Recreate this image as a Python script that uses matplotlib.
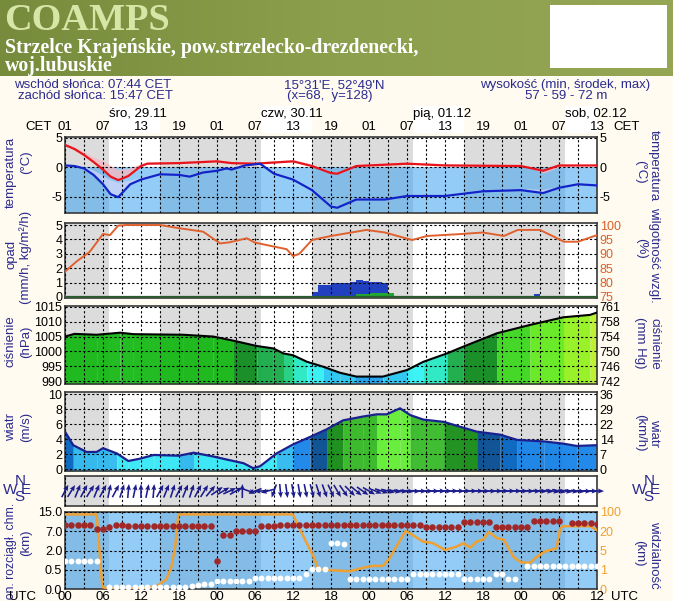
import numpy as np
import matplotlib.pyplot as plt
from matplotlib.colors import ListedColormap, BoundaryNorm, LinearSegmentedColormap
from matplotlib.patches import Rectangle

plt.rcParams['font.family'] = ['Liberation Sans', 'DejaVu Sans']
plt.rcParams['axes.unicode_minus'] = False

# hours from 29.11 00 UTC (= 01 CET)
day_start = [7, 31, 55, 79]
day_end = [15, 39, 63, 87]
day_labels = ['śro, 29.11', 'czw, 30.11', 'pią, 01.12', 'sob, 02.12']
cet_labels = ['01', '07', '13', '19', '01', '07', '13', '19', '01', '07', '13', '19', '01', '07', '13']
utc_labels = ['00', '06', '12', '18', '00', '06', '12', '18', '00', '06', '12', '18', '00', '06', '12']

# temperature (red) and the lower line (blue), with their light bands
red_h = [0, 1.5, 3, 4.5, 6, 7.2, 8.4, 10, 12, 13, 18, 24, 26.3, 30, 36, 39, 42, 43, 46, 54, 60, 72, 75.5, 78, 84]
red_t = [3.8, 3.1, 2.1, 0.9, -0.4, -1.6, -2.2, -1.5, 0.2, 0.6, 0.7, 1.0, 0.7, 0.6, 1.0, 0.2, -1.0, -1.1, 0.2, 0.6, 0.3, 0.2, -0.6, 0.3, 0.3]
red_band = [4.1, 3.5, 2.6, 1.7, 1.1, 0.3, -0.4, -0.2, 0.6, 0.9, 1.0, 1.3, 1.0, 0.9, 1.3, 0.5, -0.7, -0.8, 0.5, 0.9, 0.6, 0.5, -1.0, 0.0, 0.6]
blue_h = [0, 1.5, 3, 4.5, 6, 7.2, 8.4, 10.3, 12, 15, 18, 19.7, 21.8, 24, 25.5, 26.3, 28.4, 30.8, 33, 36, 39, 42, 43,
          46, 50.5, 54, 60, 66, 72, 75.5, 78, 81, 84]
blue_t = [0.3, 0.2, -0.2, -1.3, -2.9, -4.6, -5.1, -2.9, -2.1, -1.2, -1.3, -1.6, -0.9, -0.6, -0.2, -0.4, 0.3, 0.6, -1.1,
          -2.1, -3.9, -6.7, -6.9, -5.5, -5.5, -4.9, -4.9, -4.1, -3.9, -4.4, -3.5, -2.9, -3.1]
blue_band = [0.5, 0.4, 0.1, -0.5, -1.4, -2.2, -2.6, -2.2, -1.7, -0.9, -1.0, -1.3, -0.6, -0.3, 0.1, -0.1, 0.6, 0.8, -0.8,
             -1.8, -3.6, -6.4, -6.6, -5.2, -5.2, -4.6, -4.6, -3.8, -3.6, -3.8, -3.2, -2.6, -2.8]

# relative humidity (%)
rh_h = [0, 1.8, 3.9, 5.2, 6, 7.1, 8.4, 9.7, 15, 18, 21.8, 24.5, 26, 28.7, 30, 33, 35, 36, 37, 39, 42, 46, 47.6, 50.5,
        54.8, 57.2, 62, 66, 69.3, 71.5, 75, 78.8, 81, 84]
rh = [83.8, 87.3, 90.7, 94.5, 96.9, 96.5, 99.8, 100, 100, 98.9, 97.7, 93.6, 94.0, 95.4, 93.9, 92.5, 91.6, 89.2, 90.0,
      94.8, 96.2, 97.7, 98.3, 97.4, 94.8, 96.2, 96.8, 97.4, 96.2, 98.3, 98.3, 94.2, 94.2, 96.5]

# precipitation (mm/h), total and the green part
pr_h = [39, 40, 41, 42, 43, 44, 45, 46, 47, 48, 49, 50, 51, 52, 57, 58, 59, 63, 72, 73, 74, 75]
pr_total = [0.37, 0.83, 0.83, 1.0, 1.0, 1.0, 1.06, 1.18, 1.13, 1.06, 1.06, 1.0, 0.25, 0.07, 0.05, 0.1, 0.05, 0.05,
            0.07, 0.07, 0.2, 0.05]
pr_green = [0, 0, 0, 0, 0, 0, 0, 0.19, 0.19, 0.25, 0.25, 0.25, 0.25, 0.07, 0, 0, 0, 0, 0, 0, 0, 0]

# pressure (hPa)
p_h = [0, 1.5, 5, 8.7, 10.8, 18.7, 23.4, 26.6, 30.3, 32.9, 34.5, 36, 38.2, 40.8, 43.4, 46, 50.2, 54, 56.6, 60.3, 62.9,
       68.2, 73.4, 78.7, 82.9, 84]
p_hpa = [1005.0, 1005.9, 1005.6, 1006.3, 1005.8, 1005.6, 1005.0, 1003.6, 1001.8, 1001.0, 999.3, 998.7, 996.5, 994.8,
         992.8, 991.5, 991.5, 993.7, 996.5, 999.3, 1001.6, 1006.1, 1008.9, 1011.5, 1012.3, 1013.1]
mmhg_labels = ['742', '746', '750', '754', '758', '761']

# wind speed (m/s)
w_h = [0, 1.3, 3.4, 5, 6, 8.2, 10, 11.8, 14, 18, 20.3, 23.4, 25.5, 28.2, 29.7, 30.8, 33.4, 36, 38.7, 41.3, 43.9, 47,
       49.2, 50.8, 52.9, 54.5, 56.6, 59.8, 65, 68.7, 71.4, 75.6, 78.7, 80.8, 84]
w_ms = [5.0, 3.2, 2.3, 2.3, 2.8, 2.1, 1.1, 1.4, 1.9, 1.8, 2.2, 1.7, 1.3, 0.8, 0.15, 0.4, 2.1, 3.3, 4.3, 5.3, 6.5, 7.0,
        7.3, 7.3, 8.1, 7.2, 6.6, 6.3, 5.0, 4.6, 3.9, 3.7, 3.4, 3.1, 3.2]
kmh_labels = ['0', '7', '14', '22', '29', '36']

# wind direction, hourly (degrees the arrow points to, clockwise from up)
wd = [28, 32, 22, 28, 32, 22, 28, 12, 28, 18,
      5, 12, 0, 12, 5, 28, 22, 18, 28, 22,
      18, 28, 32, 40, 55, 60, 65, 60, 0, 110,
      250, 265, 255, 200, 175, 172, 170, 170, 168, 165,
      162, 160, 155, 150, 145, 135, 130, 125, 120, 112,
      108, 104, 100, 98, 96, 94, 93, 92, 92, 91,
      91, 90, 90, 90, 90, 91, 92, 92, 91, 90,
      90, 90, 91, 92, 93, 95, 97, 100, 102, 100,
      98, 96, 94, 92, 91]

# cloud levels (km), hourly
nan = np.nan
cloud_top = [9.8, 9.8, 9.8, 9.8, 9.8, 8.0, 8.0, 8.8, 9.8, 9.8,
             9.1, 9.1, 9.1, 9.1, 9.1, 9.1, 9.1, 9.1, 9.1, 9.1,
             9.1, 9.1, 9.1, 9.1, 1.2, 5.9, 5.9, 7.0, 7.0, 7.0,
             7.0, 9.1, 9.1, 9.1, 9.8, 9.8, 9.8, 9.8, 9.8, 9.8,
             9.8, 9.8, 9.8, 9.8, 9.8, 9.8, 9.8, 9.8, 9.8, 9.8,
             9.8, 9.8, 9.8, 9.8, 9.8, 9.8, 9.8, 8.8, 8.8, 8.8,
             8.8, 8.8, 8.8, 10.8, 10.8, 10.8, 10.8, 10.8, 8.8, 8.8,
             8.8, 8.8, 8.8, 8.8, 11.2, 11.2, 11.2, 11.2, 11.2, nan,
             10.6, 10.6, 10.6, 10.6, 10.0]
cloud_base = [1.2, 1.2, 1.2, 1.2, 1.2, 1.2, nan, 0.045, 0.045, 0.045,
              0.045, 0.045, 0.045, 0.045, 0.045, 0.045, 0.045, 0.045, 0.05, 0.06,
              0.08, 0.1, 0.12, 0.14, 0.22, 0.22, 0.22, 0.22, 0.22, 0.22,
              0.29, 0.29, 0.29, 0.29, 0.29, 0.29, 0.29, 0.29, 0.4, 0.53,
              0.53, 0.53, 3.9, 3.9, 3.6, 0.26, 0.26, 0.26, 0.26, 0.26,
              0.26, 0.26, 0.26, 0.26, 0.26, 0.38, 0.38, 0.38, 0.38, 0.38,
              0.38, 0.38, 0.38, 0.26, 0.26, 0.26, 0.26, 0.26, 0.38, 0.38,
              0.26, 0.26, nan, 0.77, 0.77, 0.77, 0.77, 0.77, 0.77, 0.77,
              0.77, 0.77, 0.77, 0.77, 0.77]

# visibility (km)
vis_h = [0, 5.0, 5.9, 7, 12, 14.5, 16, 16.8, 17.4, 17.9, 36, 37, 39.2, 40, 40.8, 45, 47, 48.6, 50.2, 51.2, 52.3, 53.8,
         54.9, 56.5, 58.1, 60, 61.8, 62.9, 64, 65, 66, 66.9, 68.2, 69.3, 70.8, 71.9, 73.4, 74.5, 75.8, 77.6, 78.2,
         78.7, 82.9, 84]
vis_km = [90, 90, 0.09, 0.03, 0.03, 0.15, 0.5, 1.6, 8, 90, 90, 33, 3.8, 1.2, 1.0, 0.92, 1.4, 1.8, 1.8, 3.3, 8, 22,
          17, 12, 10.7, 5.4, 8, 10.7, 7.3, 12, 13.4, 19.4, 14.6, 13.4, 3.7, 2.6, 2.4, 3.7, 4.8, 6.7, 33, 41, 41, 24]

km_levels = [0, 0.5, 2, 7, 15]
vis_levels = [0, 1, 5, 20, 100]

W, H = 673, 601
NAVY = '#2b2b8f'
GRID_LS = (0, (2, 2))


def fx(x):
    return x / W


def fy(y):
    return 1 - y / H


def box(top, bottom, left=65, right=597):
    return [fx(left), fy(bottom), (right - left) / W, (bottom - top) / H]


def base(ax, yticks, grid_y=True):
    ax.set_facecolor('#dcdcdc')
    for a, b in zip(day_start, day_end):
        ax.axvspan(a, b, color='white', lw=0, zorder=0)
    ax.set_xlim(0, 84)
    ax.set_xticks(np.arange(0, 85, 3))
    ax.set_yticks(yticks)
    ax.tick_params(length=0, labelbottom=False, labelsize=9, pad=2)
    ax.grid(True, axis='x', color='black', ls=GRID_LS, lw=0.8)
    if grid_y:
        ax.grid(True, axis='y', color='black', ls=GRID_LS, lw=0.8)
    ax.set_axisbelow(False)
    for s in ax.spines.values():
        s.set_color('#3a3a3a')
        s.set_linewidth(1.2)


def vtext(x, y, s, right=False, va='center', size=9.5):
    fig.text(fx(x), fy(y), s, rotation=270 if right else 90, ha='center', va=va, fontsize=size, color=NAVY)


fig = plt.figure(figsize=(W / 100, H / 100), dpi=100, facecolor='#fffbf0')

# header band
hdr = fig.add_axes([0, fy(76), 1, 76 / H])
hdr.axis('off')
olive = LinearSegmentedColormap.from_list('olive', ['#768c3c', '#8c9f4c', '#95a655'])
hdr.imshow(np.linspace(0, 1, 256)[None, :], cmap=olive, aspect='auto', extent=[0, 1, 0, 1])
fig.patches.append(Rectangle((fx(550), fy(68)), 117 / W, 63 / H, transform=fig.transFigure,
                             facecolor='white', edgecolor='none'))
fig.text(fx(4), fy(30), 'COAMPS', fontfamily='Liberation Serif', fontweight='bold', fontsize=27.5,
         color='#d6e6a6', va='baseline', ha='left')
fig.text(fx(5), fy(53), 'Strzelce Krajeńskie, pow.strzelecko-drezdenecki,', fontfamily='Liberation Serif',
         fontweight='bold', fontsize=14.3, color='white', va='baseline', ha='left')
fig.text(fx(5), fy(70.5), 'woj.lubuskie', fontfamily='Liberation Serif', fontweight='bold', fontsize=14.3,
         color='white', va='baseline', ha='left')

# info lines
fig.text(fx(93), fy(85), 'wschód słońca: 07:44 CET', ha='center', va='center', fontsize=9.5, color=NAVY)
fig.text(fx(95), fy(96), 'zachód słońca: 15:47 CET', ha='center', va='center', fontsize=9.5, color=NAVY)
fig.text(fx(334), fy(85), "15°31'E, 52°49'N", ha='center', va='center', fontsize=9.5, color=NAVY)
fig.text(fx(330), fy(96), '(x=68,  y=128)', ha='center', va='center', fontsize=9.5, color=NAVY)
fig.text(fx(565), fy(85), 'wysokość (min, środek, max)', ha='center', va='center', fontsize=9.5, color=NAVY)
fig.text(fx(566), fy(96), '57 - 59 - 72 m', ha='center', va='center', fontsize=9.5, color=NAVY)

# date / CET hour strip
top = fig.add_axes(box(106, 133))
top.set_facecolor('#dcdcdc')
for a, b in zip(day_start, day_end):
    top.axvspan(a, b, color='white', lw=0)
top.set_xlim(0, 84)
top.set_ylim(0, 1)
top.axis('off')
for d, lab in zip(day_start, day_labels):
    top.text(d, 0.72, lab, ha='left', va='center', fontsize=9.5, color='black')
for i, lab in enumerate(cet_labels):
    top.text(i * 6, 0.22, lab, ha='center', va='center', fontsize=9.5, color='black')
fig.text(fx(39), fy(127), 'CET', ha='center', va='center', fontsize=9.5)
fig.text(fx(627), fy(127), 'CET', ha='center', va='center', fontsize=9.5)

# temperature
ax_t = fig.add_axes(box(137, 213))
base(ax_t, [-5, 0, 5])
ax_t.set_ylim(-7.8, 5.15)
ax_t.axhspan(-7.8, 0, color='#3aa2f0', alpha=0.55, lw=0, zorder=1)
ax_t.fill_between(blue_h, blue_t, blue_band, color='#d0d4f8', alpha=0.75, lw=0, zorder=2)
ax_t.fill_between(red_h, red_t, red_band, color='#f6b8c0', alpha=0.8, lw=0, zorder=2)
ax_t.plot(red_h, red_t, color='#e8141c', lw=1.6, zorder=4)
ax_t.plot(blue_h, blue_t, color='#1024c8', lw=1.6, zorder=4)
ax_t.tick_params(labelright=True)
vtext(11, 172, 'temperatura')
vtext(26, 162, '(°C)')
vtext(640, 172, '(°C)', right=True)
vtext(654, 166, 'temperatura', right=True)

# precipitation + humidity
ax_p = fig.add_axes(box(223, 298))
base(ax_p, [0, 1, 2, 3, 4, 5])
ax_p.set_ylim(-0.07, 5.14)
ax_p.bar(pr_h, pr_total, width=1, align='edge', color='#2040c0', lw=0, zorder=2)
ax_p.bar(pr_h, pr_green, width=1, align='edge', color='#22a830', lw=0, zorder=2)
ax_p.axhline(0, color='#2e5a30', lw=1.6, zorder=3)
ax_rh = ax_p.twinx()
ax_rh.set_ylim(74.65, 100.7)
ax_rh.set_yticks([75, 80, 85, 90, 95, 100])
ax_rh.tick_params(length=0, labelsize=9, pad=2, labelcolor='#d8602a')
ax_rh.plot(rh_h, rh, color='#e0602e', lw=1.4)
for s in ax_rh.spines.values():
    s.set_visible(False)
vtext(11, 254, 'opad')
vtext(26, 257, '(mm/h, kg/m²/h)')
vtext(641, 248, '(%)', right=True)
vtext(654, 255, 'wilgotność wzgl.', right=True)

# pressure
ax_pr = fig.add_axes(box(306, 384))
base(ax_pr, [990, 995, 1000, 1005, 1010, 1015])
ax_pr.set_ylim(989, 1015.3)
p_bounds = [980, 992, 994, 996, 998, 1000, 1002, 1004, 1007, 1009, 1011, 1012.3, 1020]
p_colors = ['#1aa0ee', '#22c8f5', '#2cf2f5', '#20e8c0', '#18cc78', '#10a840', '#0a8a1a', '#10b810', '#38d818',
            '#60ec18', '#90f018', '#b8f020']
p_cmap = ListedColormap(p_colors)
p_norm = BoundaryNorm(p_bounds, p_cmap.N)
for i in range(len(p_h) - 1):
    c = p_cmap(p_norm((p_hpa[i] + p_hpa[i + 1]) / 2))
    ax_pr.fill_between(p_h[i:i + 2], 989, p_hpa[i:i + 2], color=c, alpha=0.92, lw=0, zorder=1)
ax_pr.plot(p_h, p_hpa, color='black', lw=1.5, zorder=4)
ax_mm = ax_pr.twinx()
ax_mm.set_ylim(989, 1015.3)
ax_mm.set_yticks([990, 995, 1000, 1005, 1010, 1015], mmhg_labels)
ax_mm.tick_params(length=0, labelsize=9, pad=2)
for s in ax_mm.spines.values():
    s.set_visible(False)
vtext(11, 341, 'ciśnienie')
vtext(26, 342, '(hPa)')
vtext(640, 343, '(mm Hg)', right=True)
vtext(654, 344, 'ciśnienie', right=True)

# wind speed
ax_w = fig.add_axes(box(392, 471))
base(ax_w, [0, 2, 4, 6, 8, 10])
ax_w.set_ylim(-0.23, 10.27)
w_bounds = [0, 2, 3, 4, 4.5, 5, 5.5, 6, 7.2, 12]
w_colors = ['#30e8f8', '#28b8f0', '#1080e8', '#0060c0', '#004a90', '#006a10', '#108a10', '#30b820', '#60f030']
w_cmap = ListedColormap(w_colors)
w_norm = BoundaryNorm(w_bounds, w_cmap.N)
for i in range(len(w_h) - 1):
    c = w_cmap(w_norm((w_ms[i] + w_ms[i + 1]) / 2))
    ax_w.fill_between(w_h[i:i + 2], -0.23, w_ms[i:i + 2], color=c, alpha=0.92, lw=0, zorder=1)
ax_w.plot(w_h, w_ms, color='#1a2090', lw=1.6, zorder=4)
ax_kmh = ax_w.twinx()
ax_kmh.set_ylim(-0.23, 10.27)
ax_kmh.set_yticks([0, 2, 4, 6, 8, 10], kmh_labels)
ax_kmh.tick_params(length=0, labelsize=9, pad=2)
for s in ax_kmh.spines.values():
    s.set_visible(False)
vtext(11, 427, 'wiatr')
vtext(26, 427, '(m/s)')
vtext(640, 433, '(km/h)', right=True)
vtext(654, 433, 'wiatr', right=True)

# wind direction
ax_d = fig.add_axes(box(476, 506))
base(ax_d, [], grid_y=False)
ax_d.set_ylim(-1, 1)
rad = np.deg2rad(wd)
ax_d.quiver(np.arange(len(wd)), np.zeros(len(wd)), np.sin(rad), np.cos(rad), angles='uv', pivot='middle',
            scale_units='inches', scale=1 / 0.14, units='inches', width=0.016, headwidth=3.2, headlength=3.8,
            headaxislength=3.3, color='#1c1c8c', zorder=4, clip_on=False)
for xc in (16, 645):
    fig.text(fx(xc + 4), fy(481), 'N', ha='center', va='center', fontsize=11, color=NAVY)
    fig.text(fx(xc - 6), fy(490), 'W', ha='center', va='center', fontsize=11, color=NAVY)
    fig.text(fx(xc + 10), fy(490), 'E', ha='center', va='center', fontsize=11, color=NAVY)
    fig.text(fx(xc + 3), fy(497), 'S', ha='center', va='center', fontsize=11, color=NAVY)

# clouds + visibility
ax_v = fig.add_axes(box(512, 589))
ax_v.set_yscale('function', functions=(lambda v: np.interp(v, vis_levels, [0, 1, 2, 3, 4]),
                                       lambda i: np.interp(i, [0, 1, 2, 3, 4], vis_levels)))
base(ax_v, vis_levels)
ax_v.set_ylim(0, 100)
ax_v.set_yticks(vis_levels, ['0', '1', '5', '20', '100'])
ax_v.axhspan(0, 100, color='#3aa2f0', alpha=0.55, lw=0, zorder=1)
ax_v.plot(vis_h, vis_km, color='#f0a030', lw=1.8, zorder=3)

ax_c = ax_v.twinx()
ax_c.set_yscale('function', functions=(lambda v: np.interp(v, km_levels, [0, 1, 2, 3, 4]),
                                       lambda i: np.interp(i, [0, 1, 2, 3, 4], km_levels)))
ax_c.set_ylim(0, 15)
ax_c.set_yticks(km_levels, ['0.0', '0.5', '2.0', '7.0', '15.0'])
ax_c.yaxis.tick_left()
ax_c.tick_params(length=0, labelsize=9, pad=2)
ax_v.yaxis.tick_right()
ax_v.tick_params(length=0, labelcolor='#f0a030', labelsize=9, pad=2)
for s in ax_c.spines.values():
    s.set_visible(False)
hrs = np.arange(len(cloud_top))
ax_c.scatter(hrs, cloud_top, s=22, color='#a02828', zorder=5, lw=0)
ax_c.scatter(hrs, cloud_base, s=18, color='white', zorder=5, lw=0)
vtext(11, 503, 'pion. rozciągł. chm.', va='top', size=8.8)
vtext(26, 543, '(km)')
vtext(639, 553, '(km)', right=True)
vtext(654, 555, 'widzialność', right=True)

# UTC row
for i, lab in enumerate(utc_labels):
    fig.text(fx(65 + i * 38), fy(591), lab, ha='center', va='top', fontsize=9.5)
fig.text(fx(22), fy(591), 'UTC', ha='center', va='top', fontsize=9.5)
fig.text(fx(625), fy(591), 'UTC', ha='center', va='top', fontsize=9.5)

fig.savefig('out.png', dpi=100, facecolor=fig.get_facecolor())
